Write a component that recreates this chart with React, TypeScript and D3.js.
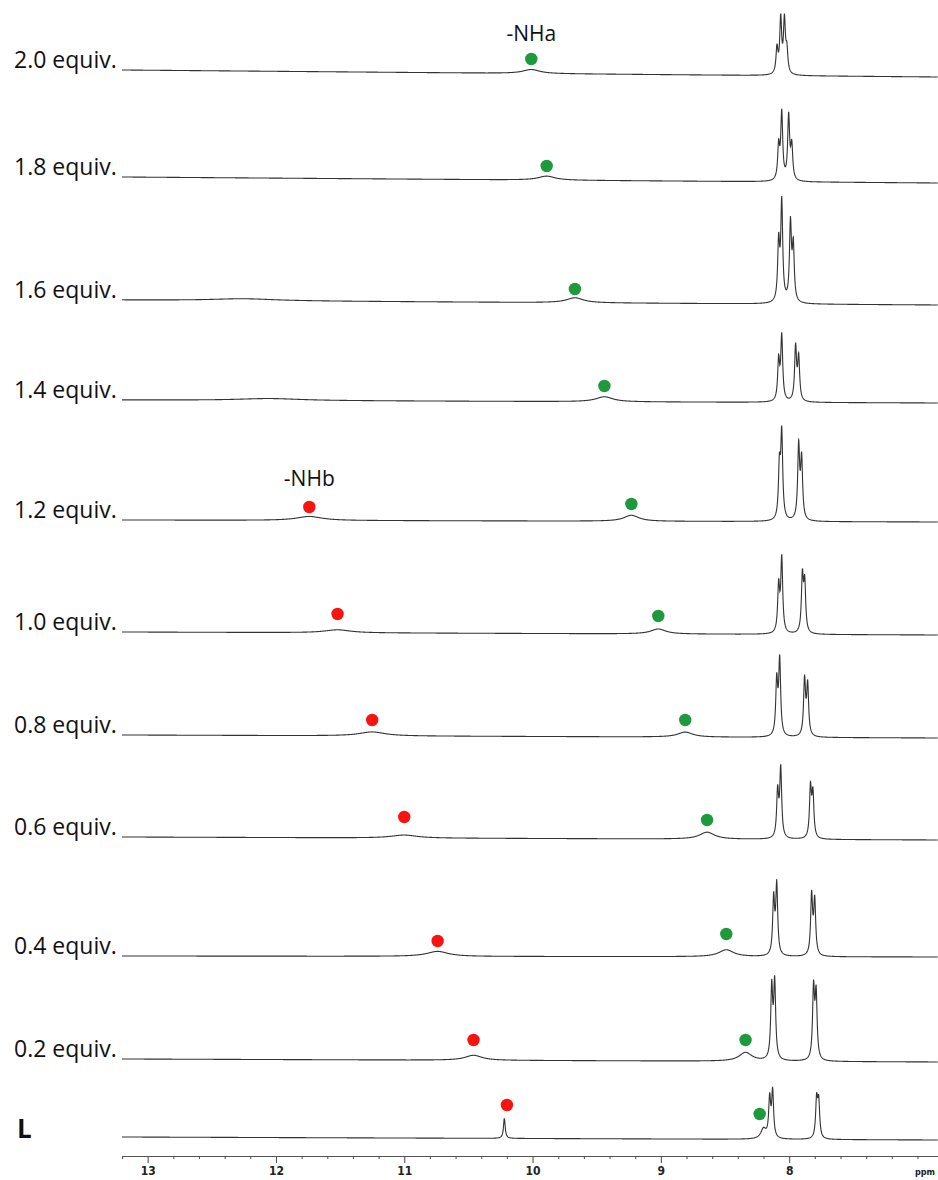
import React, { useRef, useEffect } from "react";
import * as d3 from "d3";

// Stacked 1H NMR titration spectra (ppm axis runs right to left)
const traceLabels = [
  "2.0 equiv.",
  "1.8 equiv.",
  "1.6 equiv.",
  "1.4 equiv.",
  "1.2 equiv.",
  "1.0 equiv.",
  "0.8 equiv.",
  "0.6 equiv.",
  "0.4 equiv.",
  "0.2 equiv.",
  "L",
];

// vertical stacking offset of every trace (intensity units, L = 0)
const traceOffsets = [1063, 957, 835, 737, 618, 505, 402, 300, 183, 78, 0];
// baseline drift at the left end of each trace
const baselineDrift = [7, 6, 5, 3, 2, 3, 3, 3, 1, 3, 3];

// aromatic doublets: [ppm, apparent height]
const aromaticLines: [number, number][][] = [
  [[8.095, 32], [8.066, 62], [8.037, 62], [8.018, 34]],
  [[8.082, 43], [8.058, 73], [8.004, 70], [7.98, 43]],
  [[8.082, 72], [8.058, 108], [7.99, 88], [7.968, 67]],
  [[8.082, 48], [8.058, 70], [7.95, 60], [7.926, 50]],
  [[8.076, 69], [8.058, 96], [7.926, 82], [7.903, 70]],
  [[8.082, 56], [8.058, 80], [7.897, 66], [7.879, 60]],
  [[8.097, 65], [8.074, 83], [7.88, 63], [7.856, 58]],
  [[8.09, 55], [8.066, 75], [7.834, 58], [7.815, 53]],
  [[8.121, 65], [8.097, 77], [7.825, 67], [7.801, 62]],
  [[8.136, 82], [8.113, 86], [7.81, 82], [7.79, 77]],
  [[8.152, 47], [8.129, 52], [7.786, 47], [7.77, 45]],
];

// NHa signal (green): ppm, height, half width
const nhaPpm = [10.01, 9.89, 9.67, 9.44, 9.23, 9.02, 8.81, 8.64, 8.49, 8.34, 8.2];
const nhaHeight = [4, 4, 5, 5, 6, 5, 5, 7, 7, 9, 12];
const nhaWidth = [0.08, 0.08, 0.08, 0.08, 0.07, 0.07, 0.07, 0.07, 0.07, 0.06, 0.025];

// NHb signal (red), null where absent
const nhbPpm = [null, null, 12.25, 12.05, 11.74, 11.52, 11.25, 11.0, 10.74, 10.46, 10.22];
const nhbHeight = [0, 0, 2, 2, 4, 3, 4, 3, 5, 5, 20];
const nhbWidth = [0, 0, 0.3, 0.3, 0.12, 0.12, 0.12, 0.12, 0.1, 0.08, 0.008];

// marker dots: ppm and lift above the baseline
const greenDotPpm = [10.01, 9.89, 9.67, 9.44, 9.23, 9.02, 8.81, 8.64, 8.49, 8.34, 8.23];
const greenDotLift = [18, 17, 16, 17, 18, 19, 18, 20, 23, 22, 26];
const redDotPpm = [null, null, null, null, 11.74, 11.52, 11.25, 11.0, 10.74, 10.46, 10.2];
const redDotLift = [0, 0, 0, 0, 15, 21, 18, 23, 16, 22, 35];

const axisLabels = [13, 12, 11, 10, 9, 8];

const lorentz = (x: number, x0: number, w: number) => (w * w) / ((x - x0) * (x - x0) + w * w);

const App = () => {
  const ref = useRef<SVGSVGElement>(null);

  useEffect(() => {
    if (!ref.current) return;
    const width = 938;
    const height = 1180;
    const svg = d3.select(ref.current);
    svg.selectAll("*").remove();

    const x = d3.scaleLinear().domain([13.2, 6.84]).range([122, 938]);
    const y = d3.scaleLinear().domain([0, 1140]).range([1140, 0]);
    const sharpW = 0.009;

    const line = d3
      .line<[number, number]>()
      .x((d) => x(d[0]))
      .y((d) => y(d[1]));

    traceLabels.forEach((label, i) => {
      const peaks: { c: number; h: number; w: number }[] = aromaticLines[i].map(([c, h]) => ({ c, h, w: sharpW }));
      peaks.push({ c: nhaPpm[i], h: nhaHeight[i], w: nhaWidth[i] });
      if (nhbPpm[i] !== null) peaks.push({ c: nhbPpm[i] as number, h: nhbHeight[i], w: nhbWidth[i] });

      // amplitudes so that summed curve reaches the read heights
      const amp = peaks.map((p) => p.h);
      for (let it = 0; it < 30; it++) {
        peaks.forEach((p, k) => {
          let s = 0;
          peaks.forEach((q, j) => {
            if (j !== k) s += amp[j] * lorentz(p.c, q.c, q.w);
          });
          amp[k] = Math.max(0, p.h - s);
        });
      }

      const samples = d3.range(13.2, 6.84, -0.0025).concat(peaks.map((p) => p.c));
      samples.sort((a, b) => b - a);
      const pts: [number, number][] = samples.map((p) => {
        let v = traceOffsets[i] + baselineDrift[i] * ((p - 6.84) / (13.2 - 6.84));
        peaks.forEach((q, k) => (v += amp[k] * lorentz(p, q.c, q.w)));
        return [p, v];
      });

      svg
        .append("path")
        .datum(pts)
        .attr("fill", "none")
        .attr("stroke", "#333")
        .attr("stroke-width", 1.1)
        .attr("d", line);

      const leftY = y(traceOffsets[i] + baselineDrift[i]);
      if (label === "L") {
        svg
          .append("text")
          .attr("x", 17)
          .attr("y", leftY + 1)
          .attr("font-family", "'Open Sans', sans-serif")
          .attr("font-weight", "bold")
          .attr("font-size", 26)
          .attr("fill", "#111")
          .text(label);
      } else {
        svg
          .append("text")
          .attr("x", 14)
          .attr("y", leftY - 2)
          .attr("font-family", "'Open Sans', sans-serif")
          .attr("font-size", 23)
          .attr("fill", "#111")
          .text(label);
      }

      svg
        .append("circle")
        .attr("cx", x(greenDotPpm[i]))
        .attr("cy", y(traceOffsets[i] + greenDotLift[i]))
        .attr("r", 6.2)
        .attr("fill", "#1e9a3d");

      if (redDotPpm[i] !== null) {
        svg
          .append("circle")
          .attr("cx", x(redDotPpm[i] as number))
          .attr("cy", y(traceOffsets[i] + redDotLift[i]))
          .attr("r", 6.2)
          .attr("fill", "#f5140f");
      }
    });

    // signal names
    svg
      .append("text")
      .attr("x", x(greenDotPpm[0]))
      .attr("y", y(traceOffsets[0] + greenDotLift[0]) - 18)
      .attr("text-anchor", "middle")
      .attr("font-family", "'Open Sans', sans-serif")
      .attr("font-size", 21)
      .attr("fill", "#111")
      .text("-NHa");
    svg
      .append("text")
      .attr("x", x(redDotPpm[4] as number))
      .attr("y", y(traceOffsets[4] + redDotLift[4]) - 21)
      .attr("text-anchor", "middle")
      .attr("font-family", "'Open Sans', sans-serif")
      .attr("font-size", 21)
      .attr("fill", "#111")
      .text("-NHb");

    // ppm axis
    const tickVals = d3.range(0, 32).map((k) => +(13.2 - k * 0.2).toFixed(1));
    const axis = svg
      .append("g")
      .attr("transform", `translate(0,1156)`)
      .call(
        d3
          .axisBottom(x)
          .tickValues(tickVals)
          .tickSizeInner(7)
          .tickSizeOuter(0)
          .tickPadding(3)
          .tickFormat((d) => (axisLabels.includes(d as number) ? String(d) : ""))
      );
    axis.select(".domain").attr("stroke", "#555").attr("stroke-width", 1.2);
    axis
      .selectAll(".tick line")
      .attr("stroke", "#555")
      .attr("stroke-width", 1.1)
      .attr("y2", (d) => (axisLabels.includes(d as number) ? 7 : 3));
    axis
      .selectAll(".tick text")
      .attr("font-family", "'DejaVu Sans Condensed', 'DejaVu Sans', sans-serif")
      .attr("font-weight", "bold")
      .attr("font-size", 12)
      .attr("fill", "#222");
    svg
      .append("text")
      .attr("x", 915)
      .attr("y", 1175)
      .attr("font-family", "'DejaVu Sans Condensed', 'DejaVu Sans', sans-serif")
      .attr("font-weight", "bold")
      .attr("font-size", 9)
      .attr("fill", "#222")
      .text("ppm");

    svg.attr("width", width).attr("height", height);
  }, []);

  return (
    <svg
      ref={ref}
      width={938}
      height={1180}
      style={{ position: "absolute", left: 0, top: 0, background: "#fff" }}
    ></svg>
  );
};

export default App;
